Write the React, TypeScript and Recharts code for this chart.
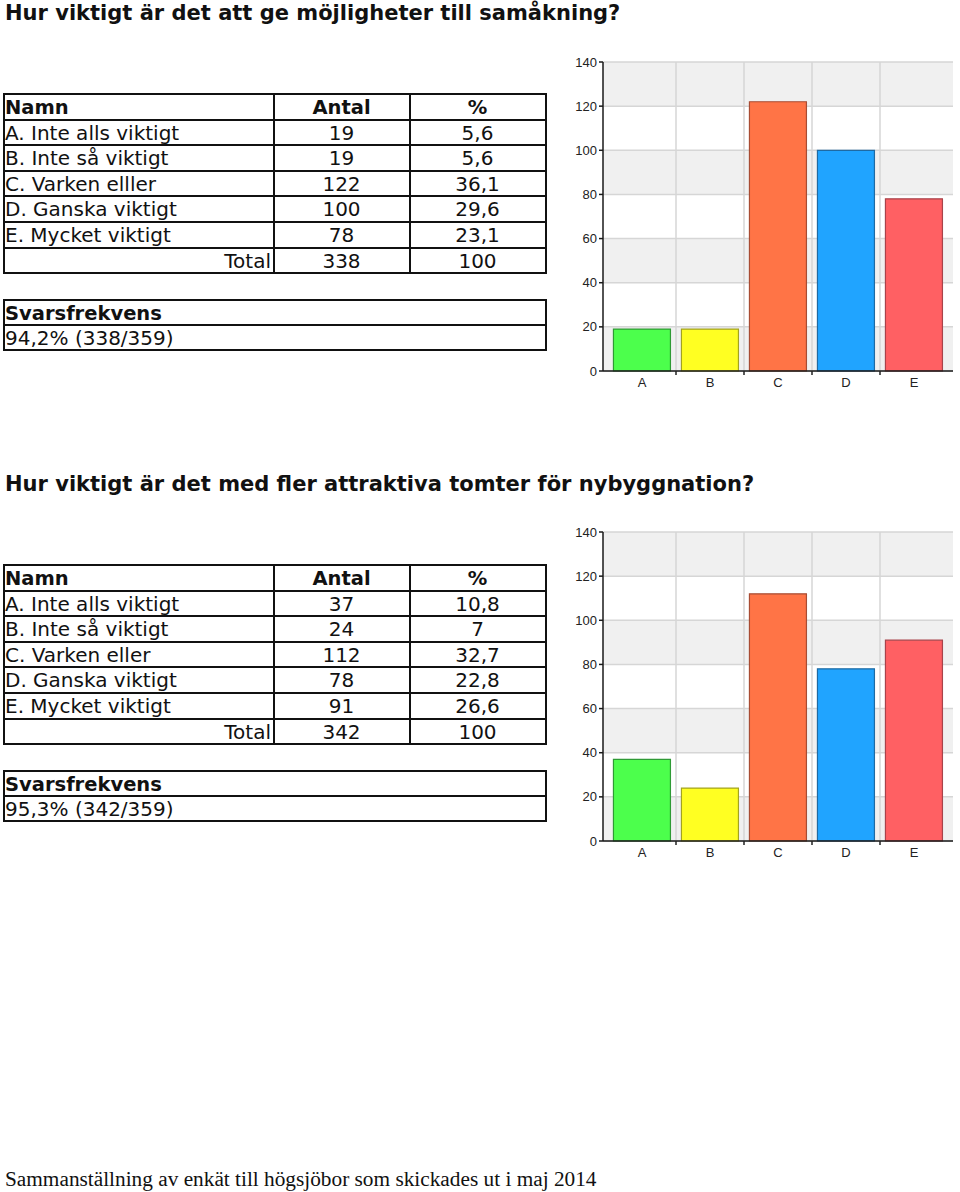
import React from 'react';
import { BarChart, Bar, XAxis, YAxis, CartesianGrid, Cell } from 'recharts';

const categories = ['A', 'B', 'C', 'D', 'E'];
const yTicks = [0, 20, 40, 60, 80, 100, 120, 140];

const q1Title = 'Hur viktigt är det att ge möjligheter till samåkning?';
const q1Names = ['A. Inte alls viktigt', 'B. Inte så viktigt', 'C. Varken elller', 'D. Ganska viktigt', 'E. Mycket viktigt'];
const q1Counts = [19, 19, 122, 100, 78];
const q1Percents = ['5,6', '5,6', '36,1', '29,6', '23,1'];
const q1Total = ['338', '100'];
const q1Rate = '94,2% (338/359)';

const q2Title = 'Hur viktigt är det med fler attraktiva tomter för nybyggnation?';
const q2Names = ['A. Inte alls viktigt', 'B. Inte så viktigt', 'C. Varken eller', 'D. Ganska viktigt', 'E. Mycket viktigt'];
const q2Counts = [37, 24, 112, 78, 91];
const q2Percents = ['10,8', '7', '32,7', '22,8', '26,6'];
const q2Total = ['342', '100'];
const q2Rate = '95,3% (342/359)';

const footer = 'Sammanställning av enkät till högsjöbor som skickades ut i maj 2014';

const barFills = ['#4cff4c', '#ffff22', '#ff7446', '#20a4ff', '#ff6063'];
const barStrokes = ['#2f9a35', '#a3a31f', '#a84c33', '#1e6aa3', '#a8434a'];

const FONT = "'DejaVu Sans', Verdana, sans-serif";
const AXIS_FONT = "'Liberation Sans', Arial, sans-serif";

const CH_W = 400;
const CH_H = 345;
const M_TOP = 12;
const M_RIGHT = 7;
const Y_W = 43;
const X_H = 24;
const PAD = 5;
const PLOT_W = CH_W - Y_W - M_RIGHT;

const XTick = (props: any) => {
  const { x, y, payload, index } = props;
  const n = categories.length;
  const catW = (PLOT_W - 2 * PAD) / n;
  return (
    <g>
      <text x={x} y={y + 16} textAnchor="middle" fontSize={13} fontFamily={AXIS_FONT} fill="#222">
        {payload.value}
      </text>
      {index < n - 1 && (
        <line x1={x + catW / 2} x2={x + catW / 2} y1={y} y2={y + 4} stroke="#222" strokeWidth={1.5} />
      )}
    </g>
  );
};

function BarPanel({ values, top }: { values: number[]; top: number }) {
  const data = categories.map((c, i) => ({ name: c, value: values[i] }));
  const n = categories.length;
  return (
    <div style={{ position: 'absolute', left: 560, top, width: CH_W, height: CH_H }}>
      <BarChart width={CH_W} height={CH_H} data={data} margin={{ top: M_TOP, right: M_RIGHT, left: 0, bottom: 0 }} barCategoryGap="8%">
        <CartesianGrid
          stroke="#d6d6d6"
          strokeWidth={1.5}
          horizontalFill={['#f0f0f0', '#ffffff']}
          fillOpacity={1}
          verticalCoordinatesGenerator={({ offset }: any) => {
            const w = (offset.width - 2 * PAD) / n;
            const pts: number[] = [];
            for (let i = 1; i < n; i++) pts.push(offset.left + PAD + i * w);
            return pts;
          }}
        />
        <XAxis
          dataKey="name"
          padding={{ left: PAD, right: PAD }}
          height={X_H}
          interval={0}
          tickSize={0}
          tickMargin={0}
          tickLine={false}
          axisLine={{ stroke: '#1a1a1a', strokeWidth: 1.5 }}
          tick={<XTick />}
        />
        <XAxis xAxisId="top" orientation="top" dataKey="name" height={0} tick={false} tickLine={false} axisLine={{ stroke: '#555', strokeWidth: 1 }} />
        <YAxis
          domain={[0, 140]}
          ticks={yTicks}
          width={Y_W}
          tickSize={4}
          tickMargin={2}
          interval={0}
          axisLine={{ stroke: '#1a1a1a', strokeWidth: 1.5 }}
          tickLine={{ stroke: '#1a1a1a', strokeWidth: 1.5 }}
          tick={{ fontSize: 13, fontFamily: AXIS_FONT, fill: '#222' }}
        />
        <YAxis yAxisId="right" orientation="right" width={0} tick={false} tickLine={false} axisLine={{ stroke: '#333', strokeWidth: 1.5 }} />
        <Bar dataKey="value" isAnimationActive={false}>
          {data.map((d, i) => (
            <Cell key={d.name} fill={barFills[i]} stroke={barStrokes[i]} strokeWidth={1.2} />
          ))}
        </Bar>
      </BarChart>
    </div>
  );
}

const COLS = [4, 273.5, 409.5, 545.5];
const ROW_H = 25.6;
const LINE = '#111';

function HLine({ x1, x2, y }: { x1: number; x2: number; y: number }) {
  return <div style={{ position: 'absolute', left: x1 - 1, top: y - 1, width: x2 - x1 + 2, height: 2, background: LINE }} />;
}
function VLine({ x, y1, y2 }: { x: number; y1: number; y2: number }) {
  return <div style={{ position: 'absolute', left: x - 1, top: y1 - 1, width: 2, height: y2 - y1 + 2, background: LINE }} />;
}

function Cell2({ left, width, top, text, align, bold }: { left: number; width: number; top: number; text: string; align: 'left' | 'center' | 'right'; bold?: boolean }) {
  return (
    <div
      style={{
        position: 'absolute',
        left,
        top: top + 1,
        width,
        height: ROW_H,
        lineHeight: `${ROW_H}px`,
        fontFamily: FONT,
        fontSize: bold ? 19.5 : 20,
        fontWeight: bold ? 'bold' : 'normal',
        textAlign: align,
        whiteSpace: 'nowrap',
        color: '#111',
      }}
    >
      {text}
    </div>
  );
}

function Section({ top, chartTop, title, names, counts, percents, total, rate }: any) {
  const tTop = top + 94;
  const rows = names.length + 2;
  const els: any[] = [];
  for (let r = 0; r <= rows; r++) els.push(<HLine key={'h' + r} x1={COLS[0]} x2={COLS[3]} y={tTop + r * ROW_H} />);
  COLS.forEach((c, i) => els.push(<VLine key={'v' + i} x={c} y1={tTop} y2={tTop + rows * ROW_H} />));
  const sTop = top + 299.5;
  return (
    <>
      <div style={{ position: 'absolute', left: 5, top: top + 1, fontFamily: FONT, fontWeight: 'bold', fontSize: 21, lineHeight: '24px', whiteSpace: 'nowrap', color: '#111' }}>
        {title}
      </div>
      {els}
      <Cell2 left={5} width={260} top={tTop} text="Namn" align="left" bold />
      <Cell2 left={COLS[1]} width={COLS[2] - COLS[1]} top={tTop} text="Antal" align="center" bold />
      <Cell2 left={COLS[2]} width={COLS[3] - COLS[2]} top={tTop} text="%" align="center" bold />
      {names.map((nm: string, i: number) => (
        <React.Fragment key={nm}>
          <Cell2 left={5} width={265} top={tTop + (i + 1) * ROW_H} text={nm} align="left" />
          <Cell2 left={COLS[1]} width={COLS[2] - COLS[1]} top={tTop + (i + 1) * ROW_H} text={String(counts[i])} align="center" />
          <Cell2 left={COLS[2]} width={COLS[3] - COLS[2]} top={tTop + (i + 1) * ROW_H} text={percents[i]} align="center" />
        </React.Fragment>
      ))}
      <Cell2 left={5} width={266} top={tTop + 6 * ROW_H} text="Total" align="right" />
      <Cell2 left={COLS[1]} width={COLS[2] - COLS[1]} top={tTop + 6 * ROW_H} text={total[0]} align="center" />
      <Cell2 left={COLS[2]} width={COLS[3] - COLS[2]} top={tTop + 6 * ROW_H} text={total[1]} align="center" />
      <HLine x1={COLS[0]} x2={COLS[3]} y={sTop} />
      <HLine x1={COLS[0]} x2={COLS[3]} y={sTop + 25} />
      <HLine x1={COLS[0]} x2={COLS[3]} y={sTop + 50.5} />
      <VLine x={COLS[0]} y1={sTop} y2={sTop + 50.5} />
      <VLine x={COLS[3]} y1={sTop} y2={sTop + 50.5} />
      <Cell2 left={5} width={500} top={sTop} text="Svarsfrekvens" align="left" bold />
      <Cell2 left={5} width={500} top={sTop + 25} text={rate} align="left" />
      <BarPanel values={counts} top={chartTop} />
    </>
  );
}

export default function App() {
  return (
    <div style={{ position: 'absolute', left: 0, top: 0, width: 960, height: 1192, background: '#fff', overflow: 'hidden' }}>
      <Section top={0} chartTop={50} title={q1Title} names={q1Names} counts={q1Counts} percents={q1Percents} total={q1Total} rate={q1Rate} />
      <Section top={471} chartTop={520} title={q2Title} names={q2Names} counts={q2Counts} percents={q2Percents} total={q2Total} rate={q2Rate} />
      <div style={{ position: 'absolute', left: 5, top: 1166, fontFamily: "'Liberation Serif', 'Times New Roman', serif", fontSize: 21.3, lineHeight: '26px', whiteSpace: 'nowrap', color: '#111' }}>
        {footer}
      </div>
    </div>
  );
}
